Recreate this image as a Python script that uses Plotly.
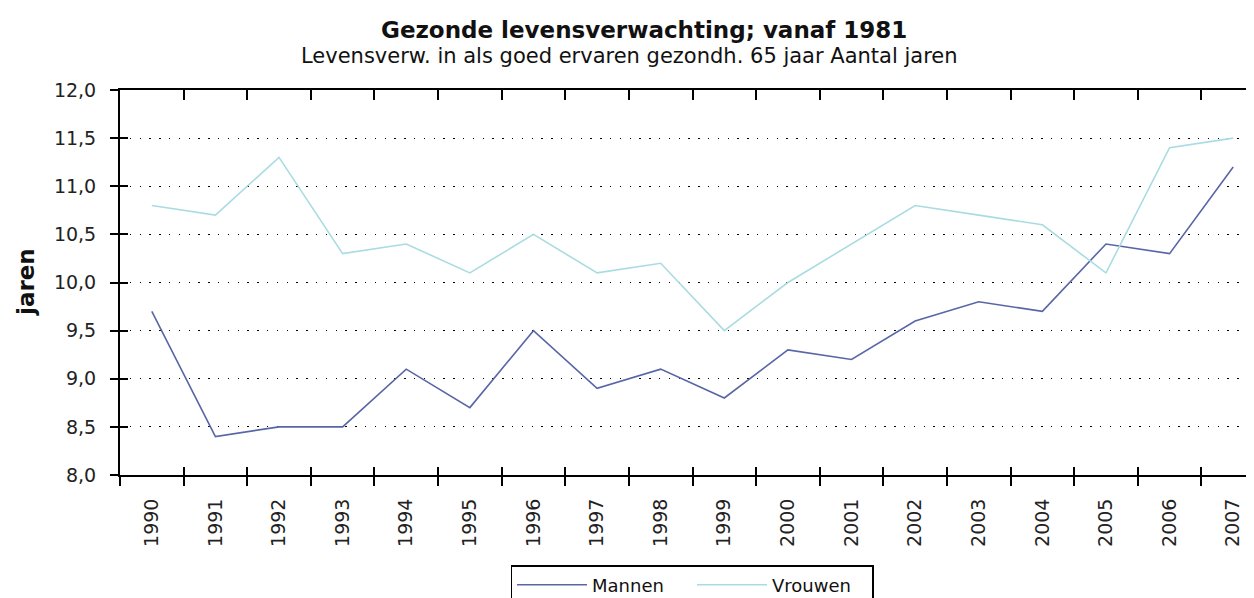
import plotly.graph_objects as go

years = ["1990", "1991", "1992", "1993", "1994", "1995", "1996", "1997", "1998",
         "1999", "2000", "2001", "2002", "2003", "2004", "2005", "2006", "2007"]
mannen = [9.7, 8.4, 8.5, 8.5, 9.1, 8.7, 9.5, 8.9, 9.1,
          8.8, 9.3, 9.2, 9.6, 9.8, 9.7, 10.4, 10.3, 11.2]
vrouwen = [10.8, 10.7, 11.3, 10.3, 10.4, 10.1, 10.5, 10.1, 10.2,
           9.5, 10.0, 10.4, 10.8, 10.7, 10.6, 10.1, 11.4, 11.5]
y_ticks = [8.0, 8.5, 9.0, 9.5, 10.0, 10.5, 11.0, 11.5, 12.0]
y_ticktext = [f"{v:.1f}".replace(".", ",") for v in y_ticks]

FONT = "DejaVu Sans"
OFF = 8  # page body margin
W, H = 1257, 598
L, R, T = 120 - OFF, 0, 90 - OFF
B = H - (475 - OFF)
PW, PH = W - L - R, H - T - B
xr = [-0.5, len(years) - 0.5]
yr = [8.0, 12.0]
boundaries = [i - 0.5 for i in range(len(years) + 1)]


def px_y(y):
    # page pixel -> paper coordinate
    return 1 + (90 - y) / PH


def px_x(x):
    return (x - 120) / PW


fig = go.Figure()
fig.add_trace(go.Scatter(x=years, y=mannen, mode="lines", name="Mannen",
                         line=dict(color="#5866a6", width=1.6)))
fig.add_trace(go.Scatter(x=years, y=vrouwen, mode="lines", name="Vrouwen",
                         line=dict(color="#a9dce2", width=1.6)))
# helper (empty) traces to activate auxiliary tick axes
fig.add_trace(go.Scatter(x=[], y=[], xaxis="x2", yaxis="y2", showlegend=False, hoverinfo="skip"))
fig.add_trace(go.Scatter(x=[], y=[], xaxis="x3", yaxis="y", showlegend=False, hoverinfo="skip"))

fig.update_layout(
    width=W, height=H,
    paper_bgcolor="white", plot_bgcolor="white",
    margin=dict(l=L, r=R, t=T, b=B, autoexpand=False),
    font=dict(family=FONT, color="#222222", size=19),
    annotations=[
        dict(text="<b>Gezonde levensverwachting; vanaf 1981</b>",
             xref="paper", yref="paper", x=px_x(644), xanchor="center",
             y=px_y(30), yanchor="middle", showarrow=False,
             font=dict(family=FONT, size=23, color="#111111")),
        dict(text="Levensverw. in als goed ervaren gezondh. 65 jaar Aantal jaren",
             xref="paper", yref="paper", x=px_x(629), xanchor="center",
             y=px_y(56), yanchor="middle", showarrow=False,
             font=dict(family=FONT, size=21, color="#111111")),
        dict(text="<b>jaren</b>", textangle=-90,
             xref="paper", yref="paper", x=px_x(26), xanchor="center",
             y=px_y(282), yanchor="middle", showarrow=False,
             font=dict(family=FONT, size=23, color="#111111")),
    ],
    showlegend=True,
    legend=dict(orientation="h", x=px_x(692), xanchor="center",
                y=px_y(565), yanchor="top",
                bordercolor="#000000", borderwidth=1.5, bgcolor="white",
                font=dict(family=FONT, size=18, color="#111111"),
                itemwidth=70, entrywidth=95, tracegroupgap=0),
    xaxis=dict(type="category", range=xr, tickson="boundaries",
               ticks="outside", ticklen=9, tickwidth=1.5, tickcolor="#000",
               showline=True, linecolor="#000", linewidth=2,
               showgrid=False, zeroline=False, tickangle=-90,
               tickfont=dict(family=FONT, size=19, color="#222"),
               ticklabelstandoff=14, automargin=False, fixedrange=True),
    xaxis2=dict(overlaying="x", anchor="y", side="bottom", range=xr,
                tickmode="array", tickvals=boundaries, ticks="inside",
                ticklen=8, tickwidth=1.5, tickcolor="#000", automargin=False,
                showticklabels=False, showline=False, showgrid=False, zeroline=False),
    xaxis3=dict(overlaying="x", anchor="y", side="top", range=xr,
                tickmode="array", tickvals=boundaries, ticks="inside",
                ticklen=10, tickwidth=1.5, tickcolor="#000", automargin=False,
                showticklabels=False, showline=True, linecolor="#000", linewidth=2,
                showgrid=False, zeroline=False),
    yaxis=dict(range=yr, tickmode="array", tickvals=y_ticks, ticktext=y_ticktext,
               ticks="outside", ticklen=8, tickwidth=1.5, tickcolor="#000",
               showline=True, linecolor="#000", linewidth=2,
               showgrid=True, gridcolor="#000", gridwidth=1.3, griddash="1.3px,8.5px",
               zeroline=False, automargin=False, ticklabelstandoff=10,
               tickfont=dict(family=FONT, size=19, color="#222")),
    yaxis2=dict(overlaying="y", anchor="x", side="left", range=yr,
                tickmode="array", tickvals=y_ticks, ticks="inside",
                ticklen=8, tickwidth=1.5, tickcolor="#000", automargin=False,
                showticklabels=False, showline=False, showgrid=False, zeroline=False),
)

fig.write_html("out.html")
